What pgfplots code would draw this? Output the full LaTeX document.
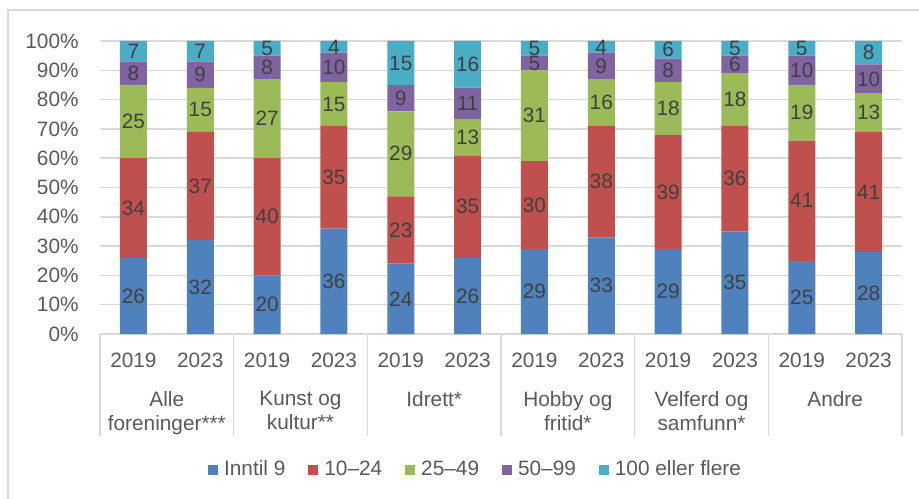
\documentclass[border=0pt]{standalone}
\usepackage{fontspec}
\setmainfont{Liberation Sans}
\usepackage{pgfplots}
\pgfplotsset{compat=1.18}
\usepackage{pgfplotstable}
\definecolor{cA}{HTML}{4F81BD}
\definecolor{cB}{HTML}{C0504D}
\definecolor{cC}{HTML}{9BBB59}
\definecolor{cD}{HTML}{8064A2}
\definecolor{cE}{HTML}{4BACC6}
\definecolor{gridc}{HTML}{D9D9D9}
\definecolor{txt}{HTML}{595959}
\definecolor{lbl}{HTML}{404040}
\newcommand{\chfont}{\fontsize{10.4}{12}\selectfont}

\pgfplotstableread{
x y lbl
0 26 26
1 32 32
2 20 20
3 36 36
4 24 24
5 26 26
6 29 29
7 33 33
8 29 29
9 35 35
10 25 25
11 28 28
}\tA
\pgfplotstableread{
x y lbl
0 34 34
1 37 37
2 40 40
3 35 35
4 23 23
5 34.8 35
6 30 30
7 38 38
8 39 39
9 36 36
10 41 41
11 41 41
}\tB
\pgfplotstableread{
x y lbl
0 25 25
1 15 15
2 27 27
3 15 15
4 29 29
5 12.6 13
6 31 31
7 16 16
8 18 18
9 18 18
10 19 19
11 13 13
}\tC
\pgfplotstableread{
x y lbl
0 8 8
1 9 9
2 8 8
3 10 10
4 9 9
5 10.7 11
6 5 5
7 9 9
8 8 8
9 6 6
10 10 10
11 10 10
}\tD
\pgfplotstableread{
x y lbl
0 7 7
1 7 7
2 5 5
3 4 4
4 15 15
5 15.9 16
6 5 5
7 4 4
8 6 6
9 5 5
10 5 5
11 8 8
}\tE

\begin{document}
\begin{tikzpicture}
\useasboundingbox (0,0) rectangle (459.5pt,249pt);
\draw[color=gridc, line width=0.6pt] (4pt,-10pt) rectangle (470pt,244pt);
\begin{axis}[
  at={(50pt,82pt)}, anchor=south west,
  scale only axis, width=401pt, height=146.5pt,
  xmin=-0.5, xmax=11.5, ymin=0, ymax=100,
  ybar stacked, bar width=13.5pt,
  clip=false,
  axis line style={draw=none},
  tick style={draw=none},
  ymajorgrids, grid style={color=gridc, line width=0.7pt},
  ytick={0,10,20,30,40,50,60,70,80,90,100},
  yticklabels={0\%,10\%,20\%,30\%,40\%,50\%,60\%,70\%,80\%,90\%,100\%},
  yticklabel style={font=\chfont, text=txt, inner sep=0pt, anchor=east, xshift=-10.5pt},
  xtick={0,1,2,3,4,5,6,7,8,9,10,11},
  xticklabels={2019,2023,2019,2023,2019,2023,2019,2023,2019,2023,2019,2023},
  xticklabel style={font=\chfont, text=txt, inner sep=0pt, anchor=base, yshift=-16.85pt},
  point meta=explicit symbolic,
  nodes near coords,
  every node near coord/.append style={anchor=center, font=\chfont, text=lbl, inner sep=0pt},
  legend columns=5,
  legend style={at={(0.467,-0.464)}, anchor=center, draw=none, fill=none, inner sep=0pt,
    font=\chfont, text=txt, nodes={inner sep=0pt},
    /tikz/every odd column/.append style={column sep=3pt},
    /tikz/every even column/.append style={column sep=11.5pt}},
  legend image code/.code={\fill[#1] (0pt,-2.5pt) rectangle (5pt,2.5pt);},
]
\addplot[fill=cA, draw=none] table[x=x, y=y, meta=lbl] {\tA};
\addplot[fill=cB, draw=none] table[x=x, y=y, meta=lbl] {\tB};
\addplot[fill=cC, draw=none] table[x=x, y=y, meta=lbl] {\tC};
\addplot[fill=cD, draw=none] table[x=x, y=y, meta=lbl] {\tD};
\addplot[fill=cE, draw=none] table[x=x, y=y, meta=lbl] {\tE};
\legend{Inntil 9, 10--24, 25--49, 50--99, 100 eller flere}
\pgfplotsinvokeforeach{-0.5,1.5,3.5,5.5,7.5,9.5,11.5}{
  \draw[color=gridc, line width=0.7pt] (axis cs:#1,0) -- ++(0pt,-51pt);
}
\tikzset{cat/.style={font=\chfont, text=txt, inner sep=0pt, anchor=north, align=center, yshift=-28.55pt}}
\node[cat] at (axis cs:0.5,0) {Alle\\foreninger***};
\node[cat] at (axis cs:2.5,0) {Kunst og\\kultur**};
\node[cat] at (axis cs:4.5,0) {Idrett*};
\node[cat] at (axis cs:6.5,0) {Hobby og\\fritid*};
\node[cat] at (axis cs:8.5,0) {Velferd og\\samfunn*};
\node[cat] at (axis cs:10.5,0) {Andre};
\end{axis}
\end{tikzpicture}
\end{document}
